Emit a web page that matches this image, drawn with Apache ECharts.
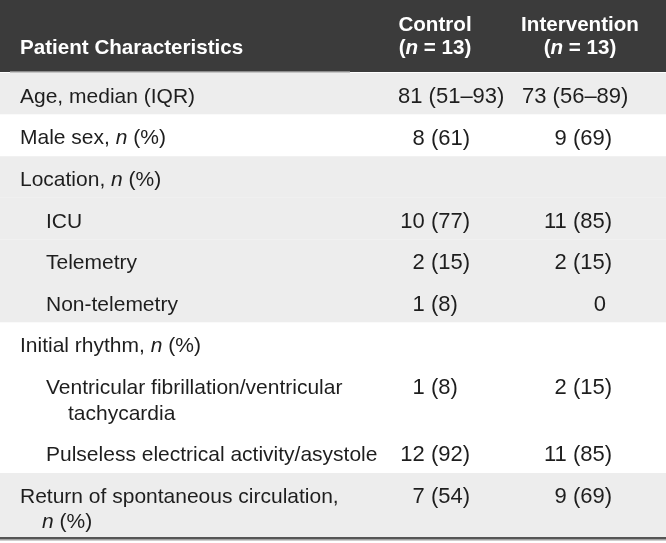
<!DOCTYPE html>
<html>
<head>
<meta charset="utf-8">
<script src="https://cdn.jsdelivr.net/npm/echarts@6/dist/echarts.min.js"></script>
<style>
html,body{margin:0;padding:0;background:#ffffff;}
#chart{width:666px;height:543px;}
</style>
</head>
<body>
<div id="chart"></div>
<script>
// ---- data ----
const headerTitle = 'Patient Characteristics';
const groupNames = ['Control', 'Intervention'];
const groupSizes = ['(n = 13)', '(n = 13)'];
const categories = [
  'Age, median (IQR)',
  'Male sex, n (%)',
  'Location, n (%)',
  'ICU',
  'Telemetry',
  'Non-telemetry',
  'Initial rhythm, n (%)',
  'Ventricular fibrillation/ventricular\ntachycardia',
  'Pulseless electrical activity/asystole',
  'Return of spontaneous circulation,\nn (%)'
];
const controlValues = ['81 (51–93)', '8 (61)', '', '10 (77)', '2 (15)', '1 (8)', '', '1 (8)', '12 (92)', '7 (54)'];
const interventionValues = ['73 (56–89)', '9 (69)', '', '11 (85)', '2 (15)', '0', '', '2 (15)', '11 (85)', '9 (69)'];
const indentLevel = [0, 0, 0, 1, 1, 1, 0, 1, 1, 0];
const bandGroup = [0, 1, 2, 2, 2, 2, 3, 3, 3, 4];

// ---- layout (styling only) ----
const W = 666, H = 543;
const FONT = '"Liberation Sans", Arial, Helvetica, sans-serif';
const FS = 21;      // row labels
const FSV = 22;     // values
const FSH = 20.6;   // header
const TEXT = '#1e1e1e';
const headerH = 72;
const rowPitch = 41.6;
const wrapPitch = 25.6;
const rowPadTop = 24;
const xMain = 20, xIndent = 26, xHang = 22;
const colRight = [470, 612];
const colLeft = [398, 522];
const colHeadCenter = [435, 580];

const lineCounts = categories.map(c => c.split('\n').length);
const rowTop = [];
const rowH = [];
let yCur = headerH + 1;
categories.forEach((c, i) => {
  rowTop.push(yCur);
  const h = rowPitch + wrapPitch * (lineCounts[i] - 1);
  rowH.push(h);
  yCur += h;
});
rowH[rowH.length - 1] = 537 - rowTop[rowTop.length - 1];

function richify(s) {
  return s.replace(/(^|[ ,(])n( |$)/g, '$1{i|n}$2');
}
function padValue(v) {
  if (/\(\d\)$/.test(v)) return v + '\u2007';
  if (/^\d+$/.test(v)) return v + '\u2008';
  return v;
}
const rich = { i: { fontStyle: 'italic', fontSize: FS, fontFamily: FONT, fill: TEXT } };

function renderItem(params, api) {
  const i = params.dataIndex;
  const children = [];
  const p0 = api.coord([0, rowTop[i]]);
  const p1 = api.coord([W, rowTop[i] + rowH[i]]);
  const shaded = bandGroup[i] % 2 === 0;
  children.push({
    type: 'rect',
    shape: { x: p0[0], y: p0[1], width: p1[0] - p0[0], height: p1[1] - p0[1] },
    style: { fill: shaded ? '#ededed' : '#ffffff' }
  });
  const lines = categories[i].split('\n');
  lines.forEach((ln, k) => {
    const xv = xMain + indentLevel[i] * xIndent + (k > 0 ? xHang : 0);
    const pt = api.coord([xv, rowTop[i] + rowPadTop + k * wrapPitch]);
    children.push({
      type: 'text', x: pt[0], y: pt[1],
      style: { text: richify(ln), rich: rich, fontSize: FS, fontFamily: FONT, fill: TEXT,
               align: 'left', verticalAlign: 'middle', textAlign: 'left', textVerticalAlign: 'middle' }
    });
  });
  [controlValues[i], interventionValues[i]].forEach((v, c) => {
    if (!v) return;
    const isRange = v.indexOf('–') >= 0;
    const xv = isRange ? colLeft[c] : colRight[c];
    const pt = api.coord([xv, rowTop[i] + rowPadTop]);
    children.push({
      type: 'text', x: pt[0], y: pt[1],
      style: { text: isRange ? v : padValue(v), fontSize: FSV, fontFamily: FONT, fill: TEXT,
               align: isRange ? 'left' : 'right', verticalAlign: 'middle',
               textAlign: isRange ? 'left' : 'right', textVerticalAlign: 'middle' }
    });
  });
  return { type: 'group', children: children };
}

const headerRich = { bi: { fontStyle: 'italic', fontWeight: 'bold', fontSize: FSH, fontFamily: FONT, fill: '#ffffff' } };
const graphics = [
  { type: 'rect', left: 0, top: 0, shape: { width: W, height: headerH }, style: { fill: '#3b3b3b' }, z: 10 },
  { type: 'rect', left: 10, top: headerH - 1, shape: { width: 340, height: 1.5 }, style: { fill: '#8c8c8c' }, z: 11 },
  { type: 'text', x: xMain, y: 48, z: 12,
    style: { text: headerTitle, fontSize: FSH, fontWeight: 'bold', fontFamily: FONT, fill: '#ffffff', align: 'left', verticalAlign: 'middle' } }
];
groupNames.forEach((g, c) => {
  graphics.push({ type: 'text', x: colHeadCenter[c], y: 25, z: 12,
    style: { text: g, fontSize: FSH, fontWeight: 'bold', fontFamily: FONT, fill: '#ffffff', align: 'center', verticalAlign: 'middle' } });
  graphics.push({ type: 'text', x: colHeadCenter[c], y: 48, z: 12,
    style: { text: groupSizes[c].replace('n', '{bi|n}'), rich: headerRich, fontSize: FSH, fontWeight: 'bold', fontFamily: FONT, fill: '#ffffff', align: 'center', verticalAlign: 'middle' } });
});
graphics.push({ type: 'rect', left: 0, top: 537, shape: { width: W, height: 2 }, style: { fill: '#555555' }, z: 12 });
graphics.push({ type: 'rect', left: 0, top: 539, shape: { width: W, height: 1.5 }, style: { fill: '#a0a0a0' }, z: 12 });

const chart = echarts.init(document.getElementById('chart'), null, { renderer: 'canvas' });
chart.setOption({
  animation: false,
  grid: { left: 0, right: 0, top: 0, bottom: 0 },
  xAxis: { type: 'value', min: 0, max: W, show: false },
  yAxis: { type: 'value', min: 0, max: H, inverse: true, show: false },
  graphic: graphics,
  series: [{
    type: 'custom',
    coordinateSystem: 'cartesian2d',
    silent: true,
    clip: false,
    data: categories.map((c, i) => [i, rowTop[i]]),
    renderItem: renderItem
  }]
});
</script>
</body>
</html>
